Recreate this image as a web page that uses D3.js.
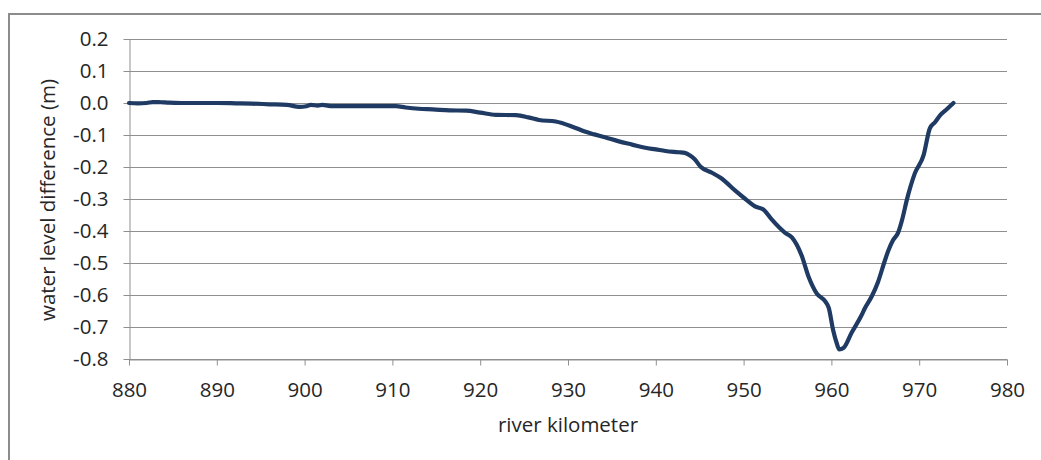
<!DOCTYPE html>
<html>
<head>
<meta charset="utf-8">
<script src="https://cdn.jsdelivr.net/npm/d3@7"></script>
<style>
  html, body { margin: 0; padding: 0; background: #fff; }
  svg { display: block; }
</style>
</head>
<body>
<svg id="chart" width="1041" height="460"></svg>
<script>
// river kilometer
const km = [880, 881, 882, 882.7, 883.3, 883.9, 884.5, 886, 888, 890, 892.2, 894, 896, 898, 899.4, 900.2, 900.7, 901.5, 902, 903.2, 905, 907, 910.4, 911.5, 913, 914.6, 916.5, 918.4, 920, 921.8, 924.1, 925.5, 926.7, 928.6, 930.5, 932, 933, 934.3, 935.8, 937.3, 938.8, 940, 941.1, 942.6, 943.3, 943.9, 944.4, 945.1, 946.4, 947.5, 949.05, 950.2, 951.3, 952.3, 953.2, 954.7, 955.5, 956.6, 957.4, 958.3, 959.3, 959.7, 960.2, 960.6, 960.9, 961.4, 962.3, 963.4, 963.8, 964.6, 965.3, 966.0, 966.5, 967.0, 967.6, 968.1, 968.6, 969.5, 970.5, 971.2, 971.8, 972.4, 973.2, 973.9];
// water level difference (m)
const diff = [0.0, -0.001, 0.0, 0.003, 0.003, 0.002, 0.001, 0.0, 0.0, 0.0, -0.001, -0.002, -0.004, -0.006, -0.012, -0.01, -0.006, -0.008, -0.006, -0.01, -0.01, -0.01, -0.01, -0.014, -0.018, -0.02, -0.023, -0.024, -0.03, -0.037, -0.038, -0.045, -0.053, -0.058, -0.074, -0.09, -0.098, -0.108, -0.12, -0.13, -0.14, -0.145, -0.15, -0.154, -0.156, -0.164, -0.175, -0.199, -0.218, -0.236, -0.274, -0.3, -0.323, -0.334, -0.364, -0.405, -0.42, -0.476, -0.543, -0.594, -0.62, -0.64, -0.71, -0.75, -0.77, -0.765, -0.718, -0.665, -0.642, -0.604, -0.56, -0.5, -0.46, -0.43, -0.405, -0.36, -0.302, -0.22, -0.163, -0.08, -0.06, -0.038, -0.018, 0.0];

const xTicks = [880, 890, 900, 910, 920, 930, 940, 950, 960, 970, 980];
const yTicks = [0.2, 0.1, 0.0, -0.1, -0.2, -0.3, -0.4, -0.5, -0.6, -0.7, -0.8];

const xLabel = "river kilometer";
const yLabel = "water level difference (m)";

const svg = d3.select("#chart");
const plotLeft = 129, plotRight = 1007, plotTop = 39, plotBottom = 359;
const font = "'Open Sans', 'Liberation Sans', sans-serif";

// outer frame (left and top edges visible)
svg.append("path")
  .attr("d", "M9,460 L9,14 L1041,14")
  .attr("fill", "none").attr("stroke", "#8c8c8c").attr("stroke-width", 2);

const x = d3.scaleLinear().domain([880, 980]).range([plotLeft, plotRight]);
const y = d3.scaleLinear().domain([-0.8, 0.2]).range([plotBottom, plotTop]);

// gridlines
svg.append("g").selectAll("line").data(yTicks).join("line")
  .attr("x1", plotLeft).attr("x2", plotRight)
  .attr("y1", d => Math.round(y(d)) + 0.5).attr("y2", d => Math.round(y(d)) + 0.5)
  .attr("stroke", "#8f8f8f").attr("stroke-width", 1);

// y axis
const yAxis = svg.append("g").attr("transform", `translate(${plotLeft + 0.5},0)`)
  .call(d3.axisLeft(y).tickValues(yTicks).tickFormat(d => d3.format(".1f")(d).replace("\u2212", "-")).tickSize(6).tickSizeOuter(0).tickPadding(15));
yAxis.select(".domain").attr("stroke", "#8f8f8f");
yAxis.selectAll(".tick line").attr("stroke", "#8f8f8f");
yAxis.selectAll("text").attr("font-family", font).attr("font-size", 20.5).attr("fill", "#262626");

// x axis
const xAxis = svg.append("g").attr("transform", `translate(0,${Math.round(y(-0.8)) + 0.5})`)
  .call(d3.axisBottom(x).tickValues(xTicks).tickFormat(d3.format("d")).tickSize(6).tickSizeOuter(0).tickPadding(17));
xAxis.select(".domain").attr("stroke", "#8f8f8f");
xAxis.selectAll(".tick line").attr("stroke", "#8f8f8f");
xAxis.selectAll("text").attr("font-family", font).attr("font-size", 20.5).attr("fill", "#262626");

// data line
const pts = km.map((k, i) => [k, diff[i]]);
svg.append("path")
  .datum(pts)
  .attr("fill", "none")
  .attr("stroke", "#1f3a63")
  .attr("stroke-width", 4.2)
  .attr("stroke-linejoin", "round")
  .attr("stroke-linecap", "round")
  .attr("d", d3.line().x(d => x(d[0])).y(d => y(d[1])).curve(d3.curveMonotoneX));

// axis titles
svg.append("text")
  .attr("x", 568).attr("y", 432)
  .attr("text-anchor", "middle")
  .attr("font-family", font).attr("font-size", 20.5).attr("fill", "#262626")
  .text(xLabel);

svg.append("text")
  .attr("transform", `translate(55,200) rotate(-90)`)
  .attr("text-anchor", "middle")
  .attr("font-family", font).attr("font-size", 20.5).attr("fill", "#262626")
  .text(yLabel);
</script>
</body>
</html>
